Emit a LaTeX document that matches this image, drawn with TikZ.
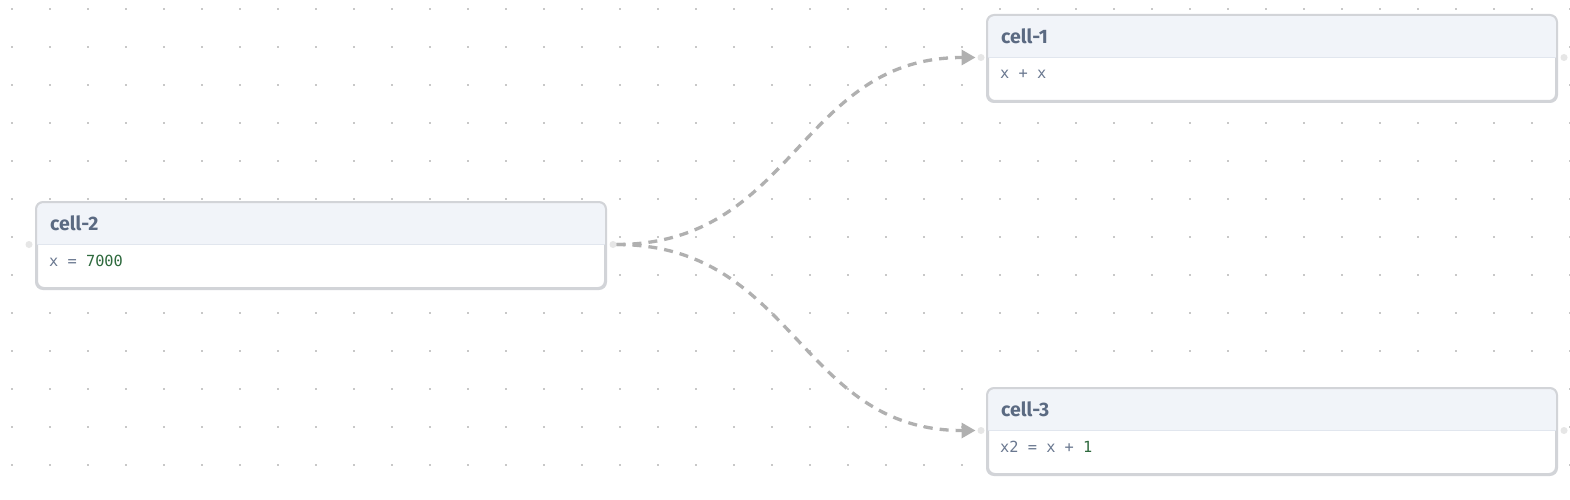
\documentclass[tikz,border=0pt]{standalone}
\usepackage{fontspec}
\setmainfont{Fira Sans}
\setmonofont{DejaVu Sans Mono}
\usetikzlibrary{arrows.meta,positioning}
\definecolor{gridgray}{HTML}{C8C8C8}
\definecolor{boxline}{HTML}{D2D4D8}
\definecolor{headbg}{HTML}{F1F4F9}
\definecolor{headline}{HTML}{E1E6EE}
\definecolor{titlecol}{HTML}{5B6A82}
\definecolor{codecol}{HTML}{6A7890}
\definecolor{numcol}{HTML}{2F6A3E}
\definecolor{edgecol}{HTML}{B0B0B0}
\definecolor{handlecol}{HTML}{E6E6E6}
\tikzset{
  cellbox/.style = {draw=boxline, line width=2pt, fill=white,
                    rounded corners=7pt, minimum width=568pt,
                    minimum height=85pt, inner sep=0pt, anchor=north west},
  handle/.style = {circle, fill=handlecol, minimum size=#1,
                   inner sep=0pt, outer sep=0pt},
  handle/.default = 7pt,
  title/.style = {anchor=west, inner sep=0pt, text=titlecol,
                  font=\fontsize{19.5}{22}\selectfont\bfseries},
  code/.style = {anchor=west, inner sep=0pt, text=codecol,
                 font=\fontsize{15.3}{17}\selectfont\ttfamily},
  edge/.style = {draw=edgecol, line width=3.3pt, dash pattern=on 9pt off 7pt,
                 -{Triangle[length=14pt,width=15pt]}, shorten >=2pt}
}

\begin{document}
\begin{tikzpicture}[x=1pt,y=-1pt]
	\def \head{42.5}
	\def \bend{182}
	\useasboundingbox (0,0) rectangle (1570,500);
	\fill[white] (0,0) rectangle (1570,500);
	
	% Dot grid
	\foreach \i in {0,...,41}
		\foreach \j in {0,...,12}
			\fill[gridgray] (12+38*\i-1,9+38*\j-1) rectangle ++(2,2);
	
	% Cells
	\node[cellbox] (c2) at (36,202) {};
	\node[cellbox] (c1) at (987,15) {};
	\node[cellbox] (c3) at (987,388) {};
	
	% Headers
	\foreach \c in {c1,c2,c3} {
		\fill[headbg] ([xshift=1pt,yshift=-\head pt]\c.north west) [rounded corners=6pt]
			-- ([shift={(1pt,-1pt)}]\c.north west) -- ([shift={(-1pt,-1pt)}]\c.north east)
			[sharp corners] -- ([xshift=-1pt,yshift=-\head pt]\c.north east) -- cycle;
		\draw[headline, line width=1.5pt] ([xshift=1pt,yshift=-\head pt]\c.north west)
			-- ([xshift=-1pt,yshift=-\head pt]\c.north east);
		\draw[boxline, line width=2pt, rounded corners=7pt]
			(\c.north west) rectangle (\c.south east);
	}
	
	% Titles
	\node[title] (t2) at ([shift={(14pt,-21pt)}]c2.north west) {cell-2};
	\node[title] (t1) at ([shift={(14pt,-21pt)}]c1.north west) {cell-1};
	\node[title] (t3) at ([shift={(14pt,-21pt)}]c3.north west) {cell-3};
	
	% Code
	\node[code] (s2) at ([shift={(13pt,-59pt)}]c2.north west) {x = \textcolor{numcol}{7000}};
	\node[code] (s1) at ([shift={(13pt,-59pt)}]c1.north west) {x + x};
	\node[code] (s3) at ([shift={(13pt,-59pt)}]c3.north west) {x2 = x + \textcolor{numcol}{1}};
	
	% Handles
	\node[handle] (c2-in)  at ([xshift=-7pt,yshift=-\head pt]c2.north west) {};
	\node[handle] (c2-out) at ([xshift=7pt,yshift=-\head pt]c2.north east) {};
	\node[handle] (c1-in)  at ([xshift=-6pt,yshift=-\head pt]c1.north west) {};
	\node[handle] (c1-out) at ([xshift=7pt,yshift=-\head pt]c1.north east) {};
	\node[handle] (c3-in)  at ([xshift=-6pt,yshift=-\head pt]c3.north west) {};
	\node[handle] (c3-out) at ([xshift=7pt,yshift=-\head pt]c3.north east) {};
	
	% Edges
	\draw[edge] (c2-out) .. controls +(\bend,0) and +(-\bend,0) .. (c1-in);
	\draw[edge] (c2-out) .. controls +(\bend,0) and +(-\bend,0) .. (c3-in);
	
\end{tikzpicture}
\end{document}
